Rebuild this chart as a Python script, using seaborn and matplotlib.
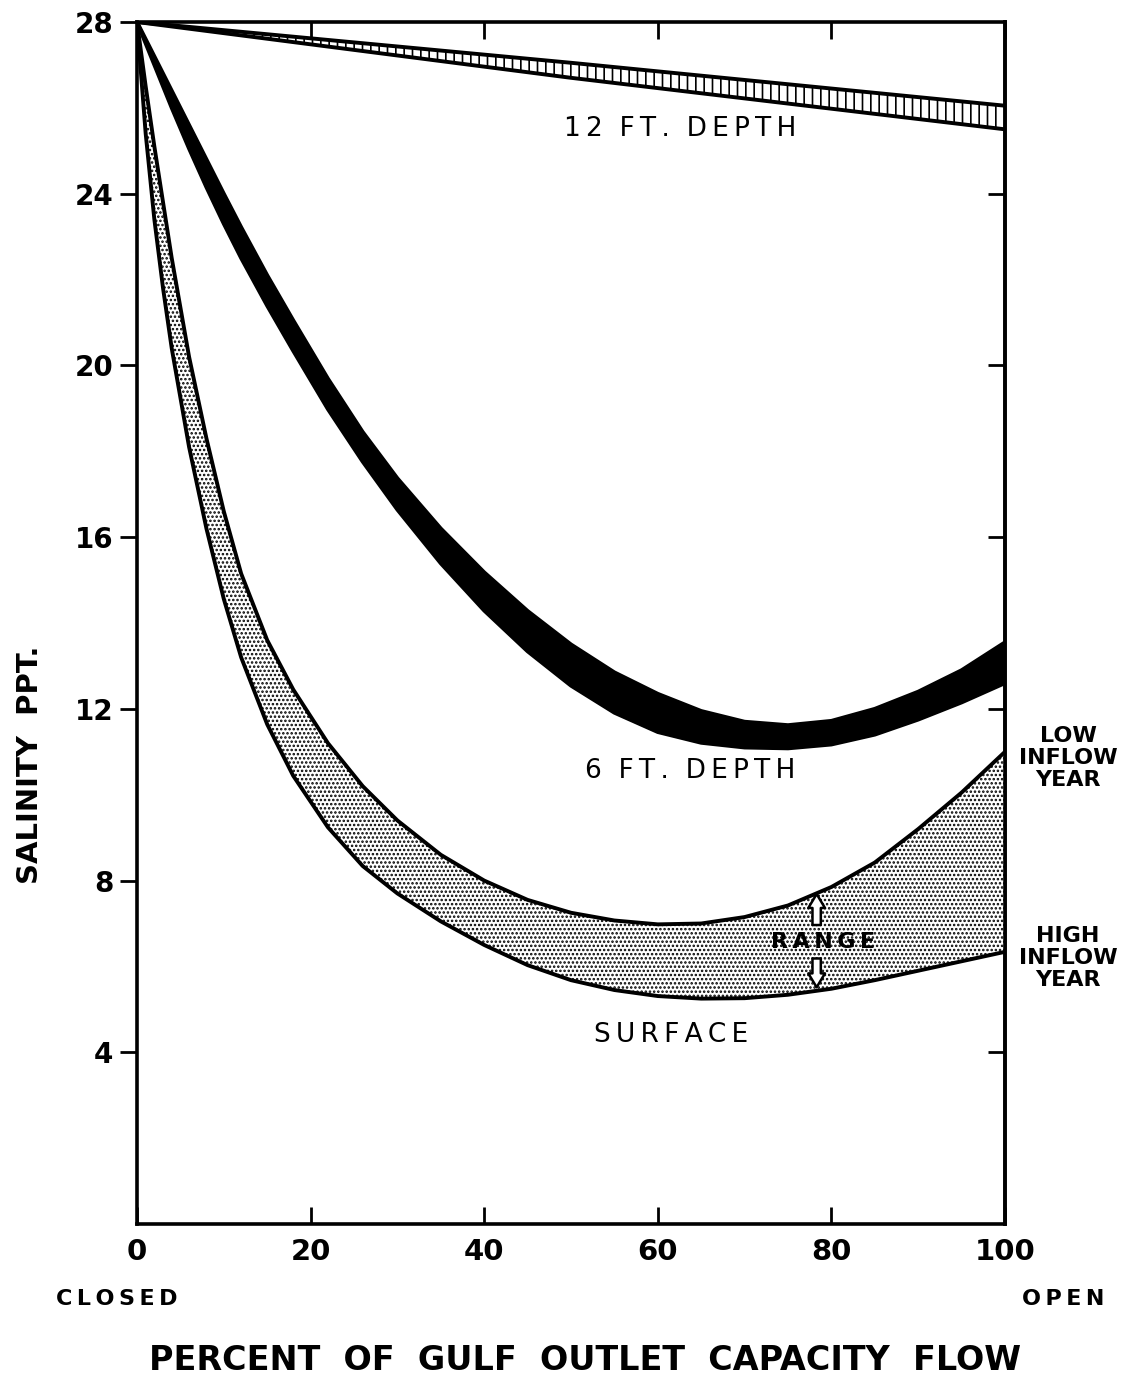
import pandas as pd
import seaborn as sns
import matplotlib.pyplot as plt

# percent of gulf outlet capacity flow (0 = closed, 100 = open)
flow = [0, 1, 2, 3, 4, 6, 8, 10, 12, 15, 18, 22, 26, 30, 35, 40, 45,
        50, 55, 60, 65, 70, 75, 80, 85, 90, 95, 100]

# surface salinity range: low inflow year (upper edge), high inflow year (lower edge)
surface_low_inflow = [28.0, 26.5, 25.1, 23.8, 22.5, 20.2, 18.3, 16.6, 15.15, 13.6,
                      12.45, 11.2, 10.2, 9.4, 8.6, 8.0, 7.55, 7.25, 7.07, 6.98,
                      7.0, 7.15, 7.42, 7.85, 8.42, 9.2, 10.05, 11.0]
surface_high_inflow = [28.0, 25.4, 23.4, 21.8, 20.4, 18.1, 16.2, 14.56, 13.2, 11.64,
                       10.44, 9.24, 8.34, 7.7, 7.05, 6.5, 6.03, 5.68, 5.45, 5.31,
                       5.25, 5.26, 5.34, 5.48, 5.68, 5.9, 6.12, 6.34]

# 6 ft depth band
depth6_upper = [28.0, 27.6, 27.2, 26.8, 26.4, 25.6, 24.8, 24.0, 23.22, 22.1,
                21.05, 19.69, 18.45, 17.37, 16.2, 15.18, 14.28, 13.5, 12.85, 12.35,
                11.95, 11.7, 11.62, 11.72, 12.0, 12.4, 12.9, 13.55]
depth6_lower = [28.0, 27.5, 27.0, 26.5, 26.0, 25.05, 24.15, 23.3, 22.5, 21.39,
                20.34, 18.98, 17.76, 16.64, 15.39, 14.29, 13.34, 12.54, 11.91, 11.46,
                11.21, 11.1, 11.08, 11.17, 11.4, 11.75, 12.15, 12.6]

# 12 ft depth band
flow12 = [0, 50, 100]
depth12_upper = [28.0, 27.05, 26.05]
depth12_lower = [28.0, 26.7, 25.5]

x_ticks = [0, 20, 40, 60, 80, 100]
y_ticks = [4, 8, 12, 16, 20, 24, 28]

sns.set_style("ticks")
plt.rcParams["font.family"] = ["DejaVu Sans"]
plt.rcParams["hatch.linewidth"] = 1.2
for key in ["text.color", "axes.labelcolor", "xtick.color", "ytick.color",
            "axes.edgecolor"]:
    plt.rcParams[key] = "black"

W, H = 1125, 1374
fig = plt.figure(figsize=(W / 100, H / 100), dpi=100)
ax = fig.add_axes([137 / W, 1 - 1224 / H, (1005 - 137) / W, (1224 - 22) / H])

# filled bands
ax.fill_between(flow12, depth12_lower, depth12_upper, facecolor="white",
                edgecolor="black", hatch="||", linewidth=0)
ax.fill_between(flow, depth6_lower, depth6_upper, color="black", linewidth=0)
ax.fill_between(flow, surface_high_inflow, surface_low_inflow, facecolor="white",
                edgecolor="black", hatch="....", linewidth=0)

# outlines
for xs, ys in [(flow12, depth12_upper), (flow12, depth12_lower),
               (flow, depth6_upper), (flow, depth6_lower),
               (flow, surface_low_inflow), (flow, surface_high_inflow)]:
    sns.lineplot(x=xs, y=ys, color="black", linewidth=2.8, ax=ax, sort=False,
                 solid_joinstyle="round")

ax.set_xlim(0, 100)
ax.set_ylim(0, 28)
ax.set_xticks(x_ticks)
ax.set_xticklabels([str(v) for v in x_ticks], fontsize=21, fontweight="bold")
ax.set_yticks(y_ticks)
ax.set_yticklabels([str(v) for v in y_ticks], fontsize=20, fontweight="bold")
ax.tick_params(axis="x", direction="in", length=12, width=2, top=True, pad=10)
ax.tick_params(axis="y", direction="out", length=12, width=2, pad=5)
for s in ax.spines.values():
    s.set_linewidth(2.6)

right = ax.secondary_yaxis("right")
right.set_yticks(y_ticks[:-1])
right.tick_params(direction="in", length=12, width=2, labelright=False)
right.spines["right"].set_linewidth(2.6)


def spaced(s):
    return "  ".join("\u2009".join(w) for w in s.split())


# curve labels
ax.text(62.6, 25.5, spaced("12 FT. DEPTH"), fontsize=19, ha="center", va="center")
ax.text(63.7, 10.56, spaced("6 FT. DEPTH"), fontsize=19, ha="center", va="center")
ax.text(61.5, 4.4, spaced("SURFACE"), fontsize=19, ha="center", va="center")
ax.text(79, 6.56, spaced("RANGE"), fontsize=16, fontweight="bold",
        ha="center", va="center", zorder=5)
arrow = dict(arrowstyle="simple,head_width=0.6,head_length=0.5,tail_width=0.3",
             fc="white", ec="black", lw=1.8, mutation_scale=20)
ax.annotate("", xy=(78.3, 7.75), xytext=(78.3, 6.9), arrowprops=arrow)
ax.annotate("", xy=(78.3, 5.45), xytext=(78.3, 6.25), arrowprops=arrow)

fig.text(1068 / W, 1 - 758 / H, "LOW\nINFLOW\nYEAR", fontsize=16, fontweight="bold",
         ha="center", va="center", linespacing=1.1, multialignment="center")
fig.text(1068 / W, 1 - 958 / H, "HIGH\nINFLOW\nYEAR", fontsize=16, fontweight="bold",
         ha="center", va="center", linespacing=1.1, multialignment="center")

# axis titles
fig.text(117 / W, 1 - 1299 / H, spaced("CLOSED"), fontsize=16, fontweight="bold",
         ha="center", va="center")
fig.text(1063 / W, 1 - 1299 / H, spaced("OPEN"), fontsize=16, fontweight="bold",
         ha="center", va="center")
fig.text(585 / W, 1 - 1360 / H, "PERCENT  OF  GULF  OUTLET  CAPACITY  FLOW",
         fontsize=24, fontweight="bold", ha="center", va="center")
fig.text(30 / W, 1 - 765 / H, "SALINITY  PPT.",
         fontsize=21, fontweight="bold", rotation=90, ha="center", va="center")

fig.savefig("out.png", dpi=100)
